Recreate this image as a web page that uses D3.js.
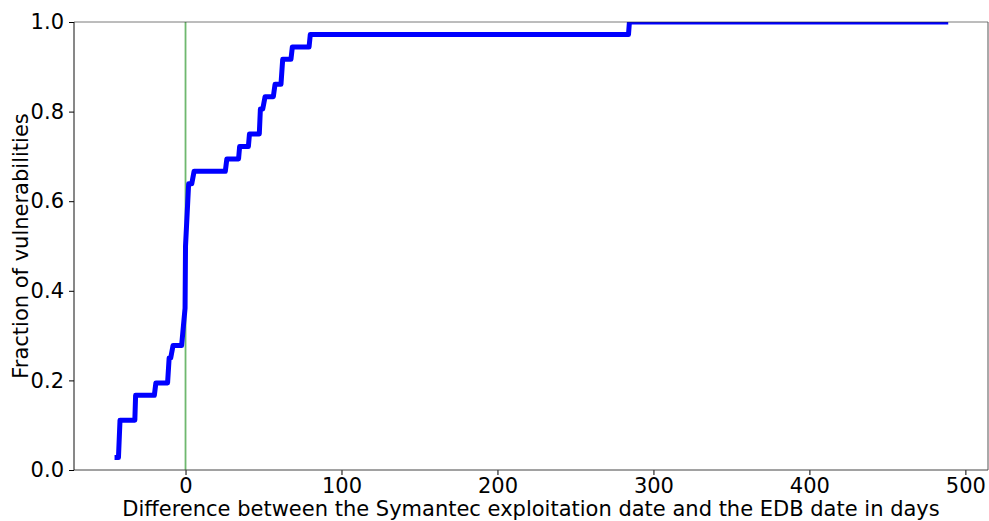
<!DOCTYPE html>
<html>
<head>
<meta charset="utf-8">
<script src="https://cdn.jsdelivr.net/npm/d3@7"></script>
<style>
  body { margin: 0; background: #fff; }
  text { font-family: "DejaVu Sans", sans-serif; fill: #000; }
</style>
</head>
<body>
<svg width="989" height="521"></svg>
<script>
// CDF vertices (days, fraction of vulnerabilities)
const days = [-45.5, -43, -42, -32.5, -32, -20, -19, -11.5, -10.5, -9.5, -8, -2.5, -0.3, 0, 2, 4, 5.5,
  25.5, 26.5, 34, 34.7, 40.3, 41, 47.3, 48, 49.5, 51, 56.3, 57.4, 61.2, 62.3, 67.6, 68.5, 79.2, 80,
  284, 284.6, 489];
const fractions = [1/36, 1/36, 4/36, 4/36, 6/36, 6/36, 7/36, 7/36, 9/36, 9/36, 10/36, 10/36, 13/36, 18/36, 23/36, 23/36, 24/36,
  24/36, 25/36, 25/36, 26/36, 26/36, 27/36, 27/36, 29/36, 29/36, 30/36, 30/36, 31/36, 31/36, 33/36, 33/36, 34/36, 34/36, 35/36,
  35/36, 1, 1];
const xTicks = [0, 100, 200, 300, 400, 500];
const yTicks = [0, 0.2, 0.4, 0.6, 0.8, 1.0];

const margin = {left: 74, right: 1, top: 22, bottom: 51};
const W = 989, H = 521;
const FS = "21px";

const svg = d3.select("svg");

const x = d3.scaleLinear()
            .domain([-71.5, 514.5])
            .range([margin.left, W - margin.right]);
const y = d3.scaleLinear()
            .domain([0, 1])
            .range([H - margin.bottom, margin.top]);

svg.append("clipPath").attr("id", "plot")
   .append("rect")
   .attr("x", margin.left).attr("y", margin.top)
   .attr("width", W - margin.right - margin.left)
   .attr("height", H - margin.bottom - margin.top);

// vertical reference line at 0 days
svg.append("line")
   .attr("x1", x(0)).attr("x2", x(0))
   .attr("y1", y(0)).attr("y2", y(1))
   .attr("stroke", "#6fb86f")
   .attr("stroke-width", 1.8);

const pts = days.map((d, i) => [d, fractions[i]]);
svg.append("path")
   .datum(pts)
   .attr("clip-path", "url(#plot)")
   .attr("fill", "none")
   .attr("stroke", "#0000ff")
   .attr("stroke-width", 5)
   .attr("stroke-linejoin", "round")
   .attr("d", d3.line().x(d => x(d[0])).y(d => y(d[1])));

// axes
const xAxis = svg.append("g")
   .attr("transform", "translate(0," + y(0) + ")")
   .call(d3.axisBottom(x).tickValues(xTicks).tickSize(5).tickPadding(3).tickFormat(d3.format("d")));
const yAxis = svg.append("g")
   .attr("transform", "translate(" + margin.left + ",0)")
   .call(d3.axisLeft(y).tickValues(yTicks).tickSize(5).tickPadding(5).tickFormat(d3.format(".1f")));

[xAxis, yAxis].forEach(a => {
  a.select(".domain").remove();
  a.selectAll("line").attr("stroke", "#000").attr("stroke-width", 1);
  a.selectAll("text").style("font-size", FS).style("font-family", "DejaVu Sans");
});

// frame
svg.append("line").attr("x1", margin.left).attr("x2", W - margin.right)
   .attr("y1", y(1)).attr("y2", y(1)).attr("stroke", "#222").attr("stroke-opacity", 0.6);
svg.append("line").attr("x1", W - margin.right).attr("x2", W - margin.right)
   .attr("y1", y(1)).attr("y2", y(0)).attr("stroke", "#555");
svg.append("line").attr("x1", margin.left).attr("x2", W - margin.right)
   .attr("y1", y(0)).attr("y2", y(0)).attr("stroke", "#444");
svg.append("line").attr("x1", margin.left).attr("x2", margin.left)
   .attr("y1", y(1)).attr("y2", y(0)).attr("stroke", "#111");

svg.append("text")
   .attr("x", (margin.left + W - margin.right) / 2)
   .attr("y", 516)
   .attr("text-anchor", "middle")
   .style("font-size", FS)
   .text("Difference between the Symantec exploitation date and the EDB date in days");

svg.append("text")
   .attr("transform", "translate(28," + ((y(0) + y(1)) / 2) + ") rotate(-90)")
   .attr("text-anchor", "middle")
   .style("font-size", FS)
   .text("Fraction of vulnerabilities");
</script>
</body>
</html>
